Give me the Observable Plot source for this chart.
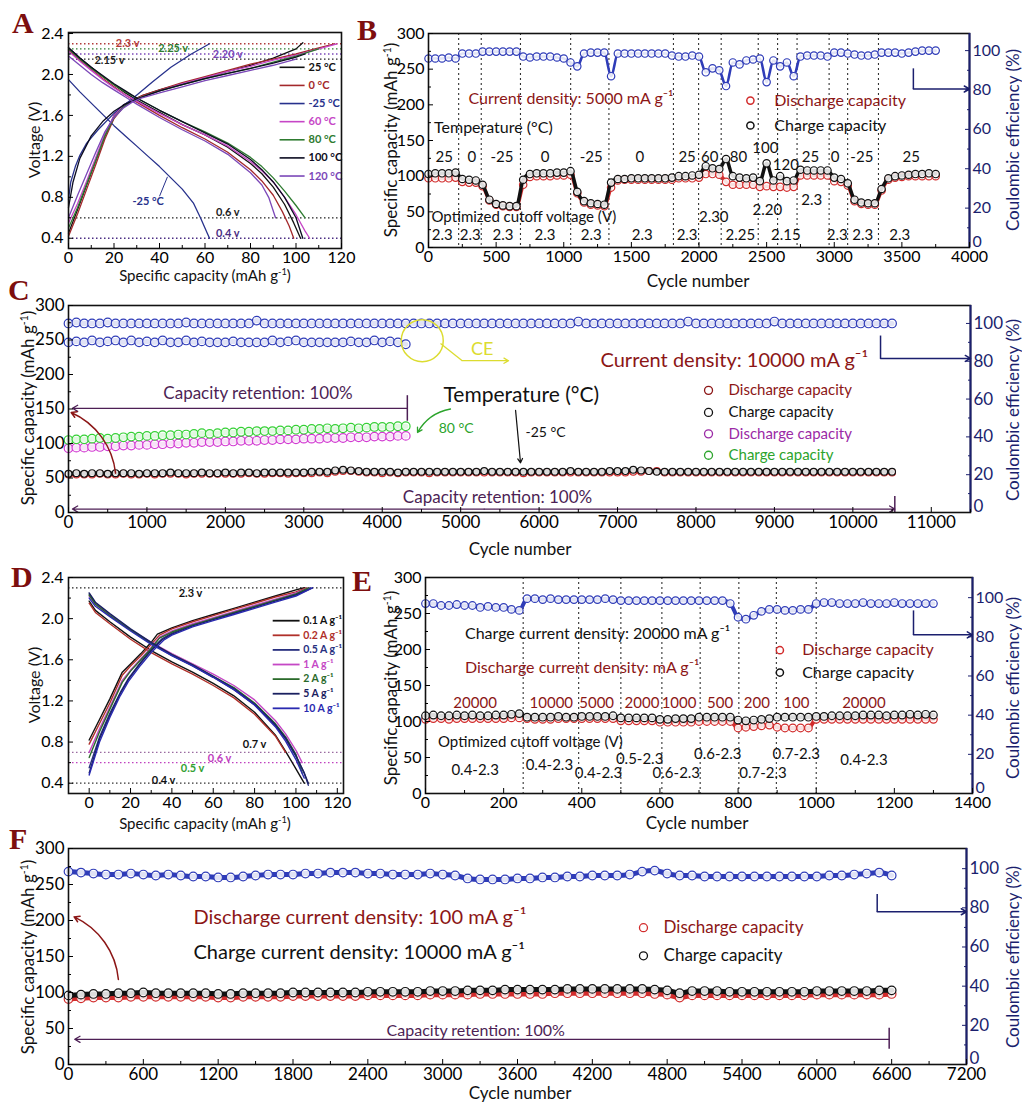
<!DOCTYPE html>
<html>
<head>
<meta charset="utf-8">
<script src="https://cdn.jsdelivr.net/npm/d3@7"></script>
<script src="https://cdn.jsdelivr.net/npm/@observablehq/plot@0.6"></script>
<style>
  html, body { margin:0; padding:0; background:#fff; }
  #fig { position:relative; width:1022px; height:1103px; overflow:hidden; font-family: Lato, "Open Sans", "DejaVu Sans", sans-serif; }
  #fig svg { position:absolute; overflow:visible; }
  .lbl { position:absolute; white-space:nowrap; line-height:1; transform: translate(-50%,-50%); }
  .rot { transform: translate(-50%,-50%) rotate(-90deg); }
  .lbl sup { font-size:0.62em; vertical-align:0.55em; line-height:0; }
  .letter { position:absolute; font-family:"Liberation Serif","DejaVu Serif",serif; font-weight:bold; font-size:30px; line-height:1; color:#7d0e0e; }
</style>
</head>
<body>
<div id="fig"></div>
<script>
// ================= DATA =================
// ---- Panel A: charge/discharge voltage profiles at different temperatures
const tempsA = ["25 °C","0 °C","-25 °C","60 °C","80 °C","100 °C","120 °C"];
const chargeA = [
  [[0,0.45],[4,0.68],[8,0.92],[12,1.16],[16,1.4],[20,1.6],[24,1.7],[28,1.75],[32,1.79],[40,1.85],[50,1.91],[60,1.97],[70,2.03],[80,2.09],[90,2.16],[100,2.25],[103,2.31]],
  [[0,0.42],[4,0.64],[8,0.88],[12,1.12],[16,1.37],[20,1.57],[24,1.68],[28,1.74],[32,1.79],[40,1.85],[50,1.92],[60,1.98],[70,2.04],[80,2.1],[90,2.15],[100,2.2],[110,2.26],[117,2.3]],
  [[0,0.78],[1,0.95],[3,1.1],[5,1.21],[8,1.33],[13,1.46],[20,1.62],[29,1.78],[37,1.93],[45,2.07],[54,2.2],[62,2.3]],
  [[0,0.55],[4,0.74],[8,0.96],[12,1.19],[16,1.42],[20,1.6],[24,1.69],[28,1.74],[32,1.78],[40,1.84],[50,1.91],[60,1.97],[70,2.03],[80,2.08],[90,2.14],[100,2.19],[110,2.25],[118,2.3]],
  [[0,0.5],[4,0.7],[8,0.93],[12,1.16],[16,1.4],[20,1.58],[24,1.68],[28,1.74],[32,1.78],[40,1.84],[50,1.9],[60,1.96],[70,2.01],[80,2.06],[90,2.12],[100,2.18],[110,2.25]],
  [[0,0.7],[2,0.95],[5,1.18],[10,1.4],[15,1.54],[20,1.64],[25,1.71],[30,1.76],[35,1.8],[40,1.84],[50,1.9],[60,1.96],[70,2.01],[80,2.06],[90,2.11],[100,2.17],[104,2.2]],
  [[0,0.6],[4,0.82],[8,1.03],[12,1.24],[16,1.44],[20,1.58],[24,1.67],[28,1.73],[32,1.77],[40,1.82],[50,1.88],[60,1.94],[70,1.99],[80,2.04],[90,2.09],[100,2.15]]
];
const dischargeA = [
  [[0,2.26],[5,2.16],[10,2.07],[15,1.98],[20,1.9],[25,1.82],[30,1.75],[40,1.63],[50,1.51],[60,1.41],[70,1.29],[80,1.13],[85,1.03],[90,0.9],[95,0.73],[99,0.55],[102,0.4]],
  [[0,2.24],[5,2.14],[10,2.05],[15,1.96],[20,1.88],[25,1.8],[30,1.73],[40,1.6],[50,1.48],[60,1.37],[70,1.24],[80,1.07],[85,0.96],[90,0.82],[94,0.66],[97,0.52],[99,0.4]],
  [[0,1.95],[5,1.83],[10,1.72],[15,1.61],[20,1.5],[25,1.4],[30,1.3],[35,1.2],[40,1.1],[45,0.99],[50,0.88],[55,0.74],[58,0.6],[61,0.45],[62,0.4]],
  [[0,2.23],[5,2.13],[10,2.04],[15,1.95],[20,1.87],[25,1.8],[30,1.74],[40,1.62],[50,1.51],[60,1.41],[70,1.3],[80,1.15],[85,1.06],[90,0.95],[95,0.8],[100,0.63],[104,0.47],[106,0.4]],
  [[0,2.25],[5,2.15],[10,2.06],[15,1.98],[20,1.9],[25,1.83],[30,1.77],[40,1.65],[50,1.54],[60,1.44],[70,1.33],[80,1.19],[85,1.1],[90,0.99],[95,0.86],[100,0.72],[104,0.6]],
  [[0,2.26],[5,2.16],[10,2.07],[15,1.99],[20,1.91],[25,1.84],[30,1.77],[40,1.65],[50,1.54],[60,1.43],[70,1.32],[80,1.17],[85,1.07],[90,0.95],[95,0.8],[100,0.6],[103,0.4]],
  [[0,2.18],[5,2.09],[10,2.0],[15,1.92],[20,1.85],[25,1.78],[30,1.71],[40,1.58],[50,1.46],[60,1.35],[70,1.22],[80,1.04],[85,0.92],[88,0.8],[91,0.6]]
];
const cutA = [2.3, 2.25, 2.2, 2.15, 0.6, 0.4];
const cutLabelsA = ["2.3 v","2.25 v","2.20 v","2.15 v","0.6 v","0.4 v"];

// ---- Panel D: voltage profiles at different current densities
const ratesD = ["0.1 A g⁻¹","0.2 A g⁻¹","0.5 A g⁻¹","1 A g⁻¹","2 A g⁻¹","5 A g⁻¹","10 A g⁻¹"];
const chargeD = [
  [[0,0.82],[5,1.02],[10,1.22],[16,1.48],[20,1.56],[25,1.66],[30,1.77],[33,1.85],[40,1.91],[50,1.98],[60,2.04],[70,2.1],[80,2.16],[90,2.22],[100,2.28],[104,2.3]],
  [[0,0.78],[5,0.98],[10,1.18],[16,1.45],[20,1.54],[25,1.64],[30,1.75],[34,1.84],[40,1.9],[50,1.97],[60,2.03],[70,2.09],[80,2.15],[90,2.21],[100,2.26],[105,2.3]],
  [[0,0.55],[5,0.85],[10,1.08],[15,1.28],[19,1.42],[25,1.58],[30,1.7],[35,1.8],[40,1.86],[50,1.94],[60,2.0],[70,2.06],[80,2.12],[90,2.18],[100,2.24],[107,2.3]],
  [[0,0.7],[5,0.93],[10,1.14],[16,1.4],[20,1.5],[25,1.61],[30,1.72],[34,1.82],[40,1.88],[50,1.95],[60,2.01],[70,2.07],[80,2.13],[90,2.19],[100,2.25],[106,2.3]],
  [[0,0.65],[5,0.9],[10,1.12],[16,1.38],[20,1.49],[25,1.6],[30,1.71],[34,1.81],[40,1.87],[50,1.94],[60,2.0],[70,2.06],[80,2.12],[90,2.18],[100,2.24],[106,2.3]],
  [[0,0.5],[5,0.83],[10,1.06],[15,1.27],[19,1.41],[25,1.57],[30,1.69],[35,1.79],[40,1.85],[50,1.93],[60,1.99],[70,2.05],[80,2.11],[90,2.17],[100,2.23],[108,2.3]],
  [[0,0.48],[5,0.8],[10,1.04],[15,1.25],[19,1.39],[25,1.55],[30,1.67],[36,1.79],[40,1.84],[50,1.92],[60,1.98],[70,2.04],[80,2.1],[90,2.16],[100,2.22],[108,2.3]]
];
const dischargeD = [
  [[0,2.17],[3,2.08],[10,1.97],[20,1.82],[30,1.69],[40,1.58],[50,1.48],[60,1.37],[70,1.25],[80,1.09],[90,0.87],[95,0.71],[100,0.54],[104,0.4]],
  [[0,2.15],[3,2.06],[10,1.95],[20,1.8],[30,1.67],[40,1.56],[50,1.46],[60,1.35],[70,1.23],[80,1.07],[90,0.86],[95,0.7]],
  [[0,2.24],[3,2.15],[10,2.04],[20,1.89],[30,1.76],[40,1.64],[50,1.54],[60,1.43],[70,1.31],[80,1.16],[90,0.96],[95,0.83],[100,0.66],[104,0.5],[106,0.38]],
  [[0,2.22],[3,2.14],[10,2.03],[20,1.89],[30,1.77],[40,1.66],[50,1.56],[60,1.46],[70,1.35],[80,1.21],[90,1.01],[95,0.88],[100,0.72],[103,0.6]],
  [[0,2.23],[3,2.14],[10,2.03],[20,1.89],[30,1.76],[40,1.65],[50,1.55],[60,1.44],[70,1.33],[80,1.18],[90,0.98],[95,0.85],[100,0.68],[103,0.5]],
  [[0,2.25],[3,2.16],[10,2.05],[20,1.9],[30,1.77],[40,1.65],[50,1.55],[60,1.44],[70,1.32],[80,1.17],[90,0.97],[95,0.84],[100,0.67],[104,0.5],[106,0.4]],
  [[0,2.2],[3,2.12],[10,2.02],[20,1.88],[30,1.75],[40,1.64],[50,1.54],[60,1.43],[70,1.31],[80,1.16],[90,0.95],[95,0.81],[100,0.63],[104,0.45]]
];
const cutD = [2.3, 0.7, 0.6, 0.4];
const cutLabelsD = ["2.3 v","0.7 v","0.6 v","0.5 v","0.4 v"];

// ---- Panel B: cycling at different temperatures (5000 mA/g)
const cyclesB = [0,50,100,150,200,250,300,350,400,450,500,550,600,650,700,750,800,850,900,950,1000,1050,1100,1150,1200,1250,1300,1350,1400,1450,1500,1550,1600,1650,1700,1750,1800,1850,1900,1950,2000,2050,2100,2150,2200,2250,2300,2350,2400,2450,2500,2550,2600,2650,2700,2750,2800,2850,2900,2950,3000,3050,3100,3150,3200,3250,3300,3350,3400,3450,3500,3550,3600,3650,3700,3750];
const chargeB = [103,104,104,104,105,96,95,94,88,67,61,59,58,58,95,103,104,104,104,105,105,107,78,65,62,61,60,91,96,96,97,97,97,97,97,97,98,100,100,101,102,114,111,110,124,100,98,97,98,93,118,94,100,93,94,109,108,108,108,108,98,96,90,67,63,62,62,82,97,100,101,102,103,103,104,103];
const dischargeB = [97,97,97,97,98,92,91,91,86,66,60,58,57,57,88,99,100,100,100,101,101,102,76,63,60,59,58,84,94,95,95,95,95,95,95,95,95,97,97,97,98,103,103,102,92,88,88,88,88,85,86,85,85,84,85,101,101,101,101,101,93,92,87,65,61,60,60,80,95,98,99,100,100,100,100,100];
const ceB = [96,96,96,96.5,96,98.5,98.5,98.5,99.5,99.5,99.5,99.5,99.5,99.5,97,96.5,97,97,97,96.5,96,94,92,98.5,99,99,99,87,98.5,98.5,98.5,98.5,98.5,98.5,98.5,98.5,97.5,97,97,97.5,97,89,91,90,82,94,93,95,95.5,96,84,95,92,94,87,97,97.5,97.5,97.5,97,99,99,98.5,98,97.5,97.5,98,99,99,99,98.5,99,99.5,100,100,100];
const boundsB = [223,390,680,1051,1334,1811,1997,2164,2438,2581,2725,2962,3099,3327];
const tempLabelsB = ["25","0","-25","0","-25","0","25","60","80","100","120","25","0","-25","25"];
const cutLabelsB = ["2.3","2.3","2.3","2.3","2.3","2.3","2.3","2.30","2.25","2.20","2.15","2.3","2.3","2.3","2.3"];

// ---- Panel C: long cycling at -25 °C and 80 °C (10000 mA/g)
const cyclesC = [0,100,200,300,400,500,600,700,800,900,1000,1100,1200,1300,1400,1500,1600,1700,1800,1900,2000,2100,2200,2300,2400,2500,2600,2700,2800,2900,3000,3100,3200,3300,3400,3500,3600,3700,3800,3900,4000,4100,4200,4300,4400,4500,4600,4700,4800,4900,5000,5100,5200,5300,5400,5500,5600,5700,5800,5900,6000,6100,6200,6300,6400,6500,6600,6700,6800,6900,7000,7100,7200,7300,7400,7500,7600,7700,7800,7900,8000,8100,8200,8300,8400,8500,8600,8700,8800,8900,9000,9100,9200,9300,9400,9500,9600,9700,9800,9900,10000,10100,10200,10300,10400,10500];
const chargeM25C = [56,57,56,57,57,56,57,57,57,56,57,57,57,58,57,57,57,58,57,57,58,57,58,58,57,58,58,58,58,58,58,59,59,59,61,62,61,60,59,59,59,59,58,59,59,59,59,59,59,59,59,59,59,60,59,59,59,59,59,59,59,59,59,59,60,59,59,59,59,60,60,60,62,61,60,59,59,59,59,59,59,59,59,59,59,59,59,59,59,59,59,59,59,59,59,59,59,59,59,59,59,59,59,59,59,59];
const dischargeM25C = [55,55,55,55,56,55,55,56,55,55,56,55,56,56,56,55,56,56,56,56,56,56,56,57,56,56,57,57,56,57,57,57,58,57,59,60,60,59,58,58,57,58,57,58,58,58,57,58,58,58,58,58,58,58,58,58,58,58,57,58,58,58,58,58,58,58,58,58,58,58,58,58,59,59,60,60,58,58,58,58,58,58,58,58,58,58,58,58,58,58,58,58,58,58,58,58,58,58,58,58,58,58,58,58,58,58];
const ceM25C = [100,100.5,100,100,100,100.5,100,100,100,100,100,100,100,100,100,100.5,100,100,100,100,100,100,100,100,101.5,100,100,100,100,100,100,100,100,100,100,100,100,100,100,100,100,100,100,100,100,100,100,100,100,100,100,100,100,100,100,100,100,100,100,100,100,100,100,100,100,101,100,100,100,100,100,100,100,100,100,100,100,100,100,101,100,100,100,100,100,100,100,100,100,100,101,100,100,100,100,100,100,100,100,100,100,100,100,100,100,100];
const charge80C = [105,106,106,107,108,107,108,109,110,110,111,111,112,112,113,113,114,115,114,115,116,116,117,117,118,118,118,119,119,120,120,121,121,122,121,122,123,122,123,124,124,124,125,125];
const discharge80C = [93,94,94,95,95,96,96,97,97,98,98,99,99,100,100,101,101,102,102,102,103,103,104,104,104,105,105,106,106,106,107,107,107,108,108,108,109,109,109,110,110,110,111,111];
const ce80C = [90,90.5,90,91,90,90.5,91,90,91,90,90.5,90,91,90,90,91,90,90.5,90,90,90,90.5,90,90,90,90,91,90,90.5,91,90,90,90,90,90,90,90.5,90,90,91,90,90.5,90,89];
const legendC = ["Discharge capacity","Charge capacity","Discharge capacity","Charge capacity"];

// ---- Panel E: rate capability (charge 20000 mA/g, variable discharge)
const cyclesE = [0,20,40,60,80,100,120,140,160,180,200,220,240,260,280,300,320,340,360,380,400,420,440,460,480,500,520,540,560,580,600,620,640,660,680,700,720,740,760,780,800,820,840,860,880,900,920,940,960,980,1000,1020,1040,1060,1080,1100,1120,1140,1160,1180,1200,1220,1240,1260,1280,1300];
const chargeE = [108,109,108,108,109,108,109,108,108,109,109,110,111,106,106,106,106,107,106,106,107,107,107,107,108,105,105,105,105,105,103,103,104,104,104,106,106,106,106,106,102,101,102,103,104,106,106,106,106,106,107,107,108,108,108,108,109,109,109,108,109,109,110,109,110,109];
const dischargeE = [103,104,104,103,104,104,104,104,104,104,104,105,105,104,103,103,103,104,104,104,104,104,104,104,104,101,101,101,101,101,99,99,99,99,99,100,100,100,100,100,91,92,93,94,95,92,91,91,91,91,103,103,103,103,103,103,103,103,103,103,103,103,103,103,103,103];
const ceE = [97,97,96,96,96.5,96,96,95,95.5,95,95,94,93.5,99.5,99.5,99,99.5,99,99,99,99,99,99,99.5,99,98.5,98.5,98.5,98.5,98.5,98.5,98.5,98.5,98.5,98.5,98.5,98.5,98.5,98.5,97,90,89,91,93,94,94,93.5,93.5,94,94,97,97.5,97.5,97,97,97,97.5,97,97,97,97.5,97,97,97,97,97];
const boundsE = [250,392,500,605,703,802,898,1000];
const rateLabelsE = ["20000","10000","5000","2000","1000","500","200","100","20000"];
const cutLabelsE = ["0.4-2.3","0.4-2.3","0.4-2.3","0.5-2.3","0.6-2.3","0.6-2.3","0.7-2.3","0.7-2.3","0.4-2.3"];

// ---- Panel F: asymmetric cycling (discharge 100, charge 10000 mA/g)
const cyclesF = [0,100,200,300,400,500,600,700,800,900,1000,1100,1200,1300,1400,1500,1600,1700,1800,1900,2000,2100,2200,2300,2400,2500,2600,2700,2800,2900,3000,3100,3200,3300,3400,3500,3600,3700,3800,3900,4000,4100,4200,4300,4400,4500,4600,4700,4800,4900,5000,5100,5200,5300,5400,5500,5600,5700,5800,5900,6000,6100,6200,6300,6400,6500,6600];
const chargeF = [96,97,98,98,99,99,100,99,99,99,99,99,98,98,99,99,99,99,100,100,100,100,100,100,101,101,101,101,101,102,102,102,103,103,103,104,104,104,104,104,105,105,105,105,105,105,105,104,103,99,102,102,102,101,101,101,101,101,101,101,102,102,102,102,102,103,103];
const dischargeF = [91,92,93,93,93,94,94,94,94,94,94,94,93,93,94,94,94,94,95,95,95,95,95,95,96,96,96,96,96,97,97,97,97,98,98,98,98,98,98,99,99,99,99,99,99,99,99,98,97,93,96,96,96,96,96,96,96,96,96,96,97,97,97,97,97,97,98];
const ceF = [98.5,98,97.5,97,97,97.5,97,96.5,97,96.5,96,96,95.5,95.5,96,96.5,97,97,97,97.5,97.5,98,98,98,97.5,97.5,97,97,97,97.5,97,96.5,95,94.5,94.5,94.5,95,95,95.5,95.5,96,96,96.5,96.5,96.5,97,98.5,99,97.5,96.5,96.5,96,96,96,96,96,96,96,96,96,96,96.5,96.5,97,97.5,98,96.5];

// ---- tick values
const capTicks = [0,50,100,150,200,250,300];
const capMinor = [25,75,125,175,225,275];
const ceTicks = [20,40,60,80,100];
const ceMinor = [10,30,50,70,90];
const vTicks = [0.4,0.8,1.2,1.6,2.0,2.4];
const vMinor = [0.6,1.0,1.4,1.8,2.2];
const qTicks = [0,20,40,60,80,100,120];
const qMinor = [10,30,50,70,90,110];
const xTicksB = [0,500,1000,1500,2000,2500,3000,3500,4000];
const xTicksC = [0,1000,2000,3000,4000,5000,6000,7000,8000,9000,10000,11000];
const xTicksE = [0,200,400,600,800,1000,1200,1400];
const xTicksF = [0,600,1200,1800,2400,3000,3600,4200,4800,5400,6000,6600,7200];

// ================= STYLE =================
const FONT = "Lato, 'Open Sans', 'DejaVu Sans', sans-serif";
const NAVY = "#1b1f6e";
const BLUE = "#2f3cb8";
const DOTRED = "#d22c2c";
const DARKRED = "#8c1616";
const RET = "#4d1f55";
const colorsA = ["#111111","#a3282b","#27318c","#c646c6","#2e7b30","#0b0b20","#7b47b8"];
const colorsD = ["#111111","#b0302a","#28307f","#c548c5","#2a6a2a","#1a2060","#2a2ab0"];
const fig = document.getElementById("fig");

function place(svg, left, top) { svg.style.left = left + "px"; svg.style.top = top + "px"; fig.appendChild(svg); }
function base(o) { return {color:{type:"identity"}, style:{fontFamily:FONT, background:"transparent", overflow:"visible"}, ...o}; }
const fmt = d => String(d);

function cycAxes(xTicks, xMinor, xmax, k, fs) {
  return [
    Plot.frame({stroke:"#111", strokeWidth:1.6}),
    Plot.ruleX([xmax], {stroke:NAVY, strokeWidth:2}),
    Plot.axisX(xTicks, {tickSize:-5, tickPadding:8, fontSize:fs, label:null, tickFormat:fmt}),
    Plot.axisX(xMinor, {tickSize:-3, tickFormat:()=>"", label:null}),
    Plot.axisY(capTicks, {tickSize:-5, tickPadding:9, fontSize:fs, label:null, tickFormat:fmt}),
    Plot.axisY(capMinor, {tickSize:-3, tickFormat:()=>"", label:null}),
    Plot.axisY(ceTicks.map(v=>v*k), {anchor:"right", tickSize:-5, tickPadding:8, fontSize:fs, label:null, color:NAVY, tickFormat:d=>String(Math.round(d/k))}),
    Plot.axisY([0], {anchor:"right", tickSize:0, tickPadding:3, dy:-6, fontSize:fs, label:null, color:NAVY, tickFormat:fmt}),
    Plot.axisY(ceMinor.map(v=>v*k), {anchor:"right", tickSize:-3, tickFormat:()=>"", label:null, color:NAVY})
  ];
}
function series(rows, y, color, r, lw) {
  return [
    Plot.line(rows, {x:"c", y, stroke:color, strokeWidth:lw, curve:"monotone-x"}),
    Plot.dot(rows, {x:"c", y, r, stroke:color, fill:"white", fillOpacity:0.85, strokeWidth:1.2})
  ];
}
function txt(s, x, y, o) { return Plot.text([s], {x, y, text:d=>d, ...o}); }
function ceArrow(x, ceTop, ceLevel, xmax, k) {
  return [
    Plot.link([0], {x1:x, x2:x, y1:ceTop*k, y2:ceLevel*k, stroke:NAVY, strokeWidth:1.5}),
    Plot.arrow([0], {x1:x, x2:xmax, y1:ceLevel*k, y2:ceLevel*k, stroke:NAVY, strokeWidth:1.5, headLength:6})
  ];
}

// ================= PANEL A =================
const rowsA = tempsA.flatMap((t,i) => [
  ...chargeA[i].map(([q,v]) => ({id:"c"+i, q, v, col:colorsA[i]})),
  ...dischargeA[i].map(([q,v]) => ({id:"d"+i, q, v, col:colorsA[i]}))
]);
const cutColA = ["#b23a3a","#2e7b30","#7b47b8","#222","#222","#4b2d83"];
const cutPosA = [[26,2.3],[46,2.25],[70,2.2],[18,2.135],[70,0.655],[70,0.45]];
place(Plot.plot(base({
  width:380, height:285, marginLeft:68, marginRight:39, marginTop:32, marginBottom:37,
  x:{domain:[0,120], label:null}, y:{domain:[0.3,2.41], label:null},
  marks:[
    Plot.ruleY(cutA, {y:d=>d, stroke:(d,i)=>cutColA[i], strokeDasharray:"1.5,2.5", strokeWidth:1.3}),
    Plot.line(rowsA, {x:"q", y:"v", z:"id", stroke:"col", strokeWidth:1.3}),
    Plot.text(cutLabelsA, {x:(d,i)=>cutPosA[i][0], y:(d,i)=>cutPosA[i][1], text:d=>d, fill:(d,i)=>cutColA[i], fontSize:11, fontWeight:"bold"}),
    txt("-25 °C", 35, 0.76, {fill:"#27318c", fontSize:11, fontWeight:"bold"}),
    Plot.link([0], {x1:40, y1:0.81, x2:43.5, y2:1.0, stroke:"#27318c"}),
    Plot.ruleY(tempsA, {y:(d,i)=>2.07-i*0.177, x1:93, x2:104, stroke:(d,i)=>colorsA[i], strokeWidth:1.6}),
    Plot.text(tempsA, {x:105.5, y:(d,i)=>2.07-i*0.177, text:d=>d, fill:(d,i)=>colorsA[i], textAnchor:"start", fontSize:11, fontWeight:"bold"}),
    Plot.frame({stroke:"#111", strokeWidth:1.6}),
    Plot.axisX(qTicks, {tickSize:-5, tickPadding:8, fontSize:16, label:null, tickFormat:fmt}),
    Plot.axisX(qMinor, {tickSize:-3, tickFormat:()=>"", label:null}),
    Plot.axisY(vTicks, {tickSize:-5, tickPadding:10, fontSize:16, label:null, tickFormat:d3.format(".1f")}),
    Plot.axisY(vMinor, {tickSize:-3, tickFormat:()=>"", label:null})
  ]
})), 0, 0);

// ================= PANEL B =================
const kB = 2.76;
const rowsB = cyclesB.map((c,i) => ({c, ch:chargeB[i], dis:dischargeB[i], ce:ceB[i]}));
const tempXB = [117,321,543,862,1203,1562,1912,2079,2292,2490,2642,2824,3006,3204,3569];
const tempYB = [126,126,126,126,126,126,126,126,126,139,116,126,126,126,126];
const cutXB = [101,308,551,862,1203,1580,1912,2109,2306,2505,2642,2834,3022,3210,3484];
const cutYB = [17,17,17,17,17,17,17,42,17,52,17,67,17,17,17];
place(Plot.plot(base({
  width:642, height:285, marginLeft:48, marginRight:53, marginTop:33, marginBottom:38,
  x:{domain:[0,4000], label:null}, y:{domain:[0,300], label:null},
  marks:[
    Plot.ruleX(boundsB, {stroke:"#333", strokeDasharray:"2,3", strokeWidth:1.1}),
    ...series(rowsB, d=>d.ce*kB, BLUE, 3.7, 2.6),
    ...series(rowsB, "dis", DOTRED, 3.7, 3.5),
    ...series(rowsB, "ch", "#111", 3.7, 3.5),
    txt("Current density: 5000 mA g⁻¹", 296, 209, {textAnchor:"start", fill:DARKRED, fontSize:16}),
    txt("Temperature (°C)", 41, 168, {textAnchor:"start", fill:"#111", fontSize:16}),
    Plot.dot([0], {x:2380, y:206, r:3.6, stroke:DOTRED, fill:"white"}),
    Plot.dot([0], {x:2380, y:171, r:3.6, stroke:"#111", fill:"white"}),
    txt("Discharge capacity", 2557, 206, {textAnchor:"start", fill:DARKRED, fontSize:16}),
    txt("Charge capacity", 2557, 171, {textAnchor:"start", fill:"#111", fontSize:16}),
    Plot.text(tempLabelsB, {x:(d,i)=>tempXB[i], y:(d,i)=>tempYB[i], text:d=>d, fill:"#111", fontSize:15}),
    txt("Optimized cutoff voltage (V)", 22, 42, {textAnchor:"start", fill:"#111", fontSize:15}),
    Plot.text(cutLabelsB, {x:(d,i)=>cutXB[i], y:(d,i)=>cutYB[i], text:d=>d, fill:"#111", fontSize:15}),
    ...ceArrow(3585, 91, 80.5, 4000, kB),
    ...cycAxes(xTicksB, [250,750,1250,1750,2250,2750,3250,3750], 4000, kB, 16)
  ]
})), 380, 0);

// ================= PANEL C =================
const kC = 2.74;
const rowsCm = cyclesC.map((c,i) => ({c, ch:chargeM25C[i], dis:dischargeM25C[i], ce:ceM25C[i]}));
const rowsC8 = cyclesC.slice(0, charge80C.length).map((c,i) => ({c, ch:charge80C[i], dis:discharge80C[i], ce:ce80C[i]}));
const legColC = [DARKRED, "#111", "#9b2aa6", "#2ca42c"];
const legYC = [177,145,114,83];
const YEL = "#dcdc30";
place(Plot.plot(base({
  width:1022, height:275, marginLeft:68, marginRight:52, marginTop:20, marginBottom:48,
  x:{domain:[0,11500], label:null}, y:{domain:[0,300], label:null},
  marks:[
    ...series(rowsC8, d=>d.ce*kC, BLUE, 4.3, 5),
    ...series(rowsCm, d=>d.ce*kC, BLUE, 4.3, 5),
    ...series(rowsC8, "dis", "#d23ad2", 4.3, 5),
    ...series(rowsC8, "ch", "#35d035", 4.3, 5),
    ...series(rowsCm, "dis", DOTRED, 3.4, 4),
    ...series(rowsCm, "ch", "#111", 3.4, 4),
    Plot.dot([0], {x:4510, y:249, r:21, stroke:YEL, fill:"none", strokeWidth:1.5}),
    Plot.link([0], {x1:4743, y1:245, x2:5020, y2:220, stroke:YEL, strokeWidth:1.3}),
    Plot.arrow([0], {x1:5020, y1:220, x2:5610, y2:220, stroke:YEL, strokeWidth:1.3, headLength:6}),
    txt("CE", 5275, 236, {fill:YEL, fontSize:18}),
    txt("Current density: 10000 mA g⁻¹", 6783, 220, {textAnchor:"start", fill:DARKRED, fontSize:20}),
    Plot.dot(legendC, {x:8160, y:(d,i)=>legYC[i], r:4, stroke:(d,i)=>legColC[i], fill:"white", strokeWidth:1.3}),
    Plot.text(legendC, {x:8415, y:(d,i)=>legYC[i], text:d=>d, fill:(d,i)=>legColC[i], textAnchor:"start", fontSize:15}),
    txt("Temperature (°C)", 4781, 170, {textAnchor:"start", fill:"#111", fontSize:21}),
    txt("80 °C", 4720, 122, {textAnchor:"start", fill:"#2ca42c", fontSize:14}),
    Plot.arrow([0], {x1:4870, y1:150, x2:4450, y2:116, bend:-25, stroke:"#2ca42c", strokeWidth:1.3, headLength:6}),
    txt("-25 °C", 5827, 116, {textAnchor:"start", fill:"#111", fontSize:14}),
    Plot.arrow([0], {x1:5700, y1:148, x2:5763, y2:72, stroke:"#111", strokeWidth:1.2, headLength:6}),
    txt("Capacity retention: 100%", 2416, 172, {fill:RET, fontSize:17}),
    Plot.arrow([0], {x1:4320, y1:151, x2:50, y2:151, stroke:RET, strokeWidth:1.3, headLength:7}),
    Plot.link([0], {x1:4320, x2:4320, y1:133, y2:170, stroke:RET, strokeWidth:1.5}),
    txt("Capacity retention: 100%", 5470, 22, {fill:RET, fontSize:17}),
    Plot.arrow([0], {x1:5300, y1:5, x2:50, y2:5, stroke:RET, strokeWidth:1.3, headLength:7}),
    Plot.arrow([0], {x1:5300, y1:5, x2:10535, y2:5, stroke:RET, strokeWidth:1.3, headLength:7}),
    Plot.link([0], {x1:10535, x2:10535, y1:0, y2:24, stroke:RET, strokeWidth:1.5}),
    Plot.arrow([0], {x1:600, y1:57, x2:34, y2:145, bend:-30, stroke:DARKRED, strokeWidth:1.5, headLength:6}),
    ...ceArrow(10353, 93.6, 81.5, 11500, kC),
    ...cycAxes(xTicksC, [500,1500,2500,3500,4500,5500,6500,7500,8500,9500,10500,11500], 11500, kC, 17)
  ]
})), 0, 285);

// ================= PANEL D =================
const rowsD = ratesD.flatMap((t,i) => [
  ...chargeD[i].map(([q,v]) => ({id:"c"+i, q, v, col:colorsD[i]})),
  ...dischargeD[i].map(([q,v]) => ({id:"d"+i, q, v, col:colorsD[i]}))
]);
const cutColD = ["#222","#9a6aa0","#c040c0","#333"];
const cutTxtColD = ["#111","#111","#c040c0","#33a033","#111"];
const cutPosD = [[49,2.245],[80,0.775],[63,0.645],[50,0.54],[36,0.43]];
place(Plot.plot(base({
  width:380, height:285, marginLeft:68, marginRight:37, marginTop:17, marginBottom:52,
  x:{domain:[-10,123], label:null}, y:{domain:[0.3,2.4], label:null},
  marks:[
    Plot.ruleY(cutD, {y:d=>d, stroke:(d,i)=>cutColD[i], strokeDasharray:"1.5,2.5", strokeWidth:1.3}),
    Plot.line(rowsD, {x:"q", y:"v", z:"id", stroke:"col", strokeWidth:1.4}),
    Plot.text(cutLabelsD, {x:(d,i)=>cutPosD[i][0], y:(d,i)=>cutPosD[i][1], text:d=>d, fill:(d,i)=>cutTxtColD[i], fontSize:11, fontWeight:"bold"}),
    Plot.ruleY(ratesD, {y:(d,i)=>1.98-i*0.142, x1:89, x2:102, stroke:(d,i)=>colorsD[i], strokeWidth:1.8}),
    Plot.text(ratesD, {x:103.5, y:(d,i)=>1.98-i*0.142, text:d=>d, fill:(d,i)=>colorsD[i], textAnchor:"start", fontSize:10.5, fontWeight:"bold"}),
    Plot.frame({stroke:"#111", strokeWidth:1.6}),
    Plot.axisX(qTicks, {tickSize:-5, tickPadding:8, fontSize:16, label:null, tickFormat:fmt}),
    Plot.axisX(qMinor, {tickSize:-3, tickFormat:()=>"", label:null}),
    Plot.axisY(vTicks, {tickSize:-5, tickPadding:10, fontSize:16, label:null, tickFormat:d3.format(".1f")}),
    Plot.axisY(vMinor, {tickSize:-3, tickFormat:()=>"", label:null})
  ]
})), 0, 560);

// ================= PANEL E =================
const kE = 2.72;
const rowsE = cyclesE.map((c,i) => ({c, ch:chargeE[i], dis:dischargeE[i], ce:ceE[i]}));
const rateXE = [127,322,438,554,649,754,848,949,1122];
const cutXE = [127,317,443,548,642,748,864,949,1122];
const cutYE = [32,39,28,48,28,55,28,55,46];
place(Plot.plot(base({
  width:642, height:285, marginLeft:45, marginRight:50, marginTop:17, marginBottom:52,
  x:{domain:[0,1400], label:null}, y:{domain:[0,300], label:null},
  marks:[
    Plot.ruleX(boundsE, {stroke:"#333", strokeDasharray:"2,3", strokeWidth:1.1}),
    ...series(rowsE, d=>d.ce*kE, BLUE, 3.8, 4),
    ...series(rowsE, "dis", DOTRED, 3.8, 4),
    ...series(rowsE, "ch", "#111", 3.8, 4),
    txt("Charge current density: 20000 mA g⁻¹", 101, 222, {textAnchor:"start", fill:"#111", fontSize:16}),
    txt("Discharge current density: mA g⁻¹", 101, 175, {textAnchor:"start", fill:DARKRED, fontSize:16}),
    Plot.dot([0], {x:907, y:199, r:3.6, stroke:DOTRED, fill:"white"}),
    Plot.dot([0], {x:907, y:168, r:3.6, stroke:"#111", fill:"white"}),
    txt("Discharge capacity", 964, 199, {textAnchor:"start", fill:DARKRED, fontSize:16}),
    txt("Charge capacity", 964, 168, {textAnchor:"start", fill:"#111", fontSize:16}),
    Plot.text(rateLabelsE, {x:(d,i)=>rateXE[i], y:126, text:d=>d, fill:DARKRED, fontSize:15}),
    txt("Optimized cutoff voltage (V)", 32, 71, {textAnchor:"start", fill:"#111", fontSize:15}),
    Plot.text(cutLabelsE, {x:(d,i)=>cutXE[i], y:(d,i)=>cutYE[i], text:d=>d, fill:"#111", fontSize:15}),
    ...ceArrow(1249, 93.5, 81, 1400, kE),
    ...cycAxes(xTicksE, [100,300,500,700,900,1100,1300], 1400, kE, 16)
  ]
})), 380, 560);

// ================= PANEL F =================
const kF = 2.72;
const rowsF = cyclesF.map((c,i) => ({c, ch:chargeF[i], dis:dischargeF[i], ce:ceF[i]}));
place(Plot.plot(base({
  width:1022, height:268, marginLeft:68, marginRight:56, marginTop:13, marginBottom:39,
  x:{domain:[0,7200], label:null}, y:{domain:[0,300], label:null},
  marks:[
    ...series(rowsF, d=>d.ce*kF, BLUE, 4.3, 5),
    ...series(rowsF, "dis", DOTRED, 4.3, 5),
    ...series(rowsF, "ch", "#111", 4.3, 5),
    txt("Discharge current density: 100 mA g⁻¹", 1002, 204, {textAnchor:"start", fill:DARKRED, fontSize:20}),
    txt("Charge current density: 10000 mA g⁻¹", 1002, 156, {textAnchor:"start", fill:"#111", fontSize:20}),
    Plot.dot([0], {x:4610, y:190, r:4, stroke:DOTRED, fill:"white", strokeWidth:1.3}),
    Plot.dot([0], {x:4610, y:151, r:4, stroke:"#111", fill:"white", strokeWidth:1.3}),
    txt("Discharge capacity", 4771, 190, {textAnchor:"start", fill:DARKRED, fontSize:17}),
    txt("Charge capacity", 4771, 151, {textAnchor:"start", fill:"#111", fontSize:17}),
    txt("Capacity retention: 100%", 3265, 47, {fill:RET, fontSize:16}),
    Plot.arrow([0], {x1:6580, y1:35, x2:50, y2:35, stroke:RET, strokeWidth:1.3, headLength:7}),
    Plot.link([0], {x1:6580, x2:6580, y1:22, y2:51, stroke:RET, strokeWidth:1.5}),
    Plot.arrow([0], {x1:400, y1:118, x2:45, y2:205, bend:-30, stroke:DARKRED, strokeWidth:1.5, headLength:6}),
    ...ceArrow(6484, 87, 78, 7200, kF),
    ...cycAxes(xTicksF, [300,900,1500,2100,2700,3300,3900,4500,5100,5700,6300,6900], 7200, kF, 17)
  ]
})), 0, 835);

// ================= HTML titles & panel letters =================
const SC = "Specific capacity (mAh g<sup>-1</sup>)";
const titles = [
  ["Voltage (V)", 34, 140, true, 16, "#111"],
  [SC, 205, 275, false, 15, "#111"],
  [SC, 390, 140, true, 17, "#111"],
  ["Cycle number", 698, 280, false, 17, "#111"],
  ["Coulombic efficiency (%)", 1012, 140, true, 17, NAVY],
  [SC, 27, 408, true, 17, "#111"],
  ["Cycle number", 520, 548, false, 17, "#111"],
  ["Coulombic efficiency (%)", 1012, 410, true, 17, NAVY],
  ["Voltage (V)", 34, 685, true, 16, "#111"],
  [SC, 205, 823, false, 15, "#111"],
  [SC, 390, 688, true, 17, "#111"],
  ["Cycle number", 697, 822, false, 17, "#111"],
  ["Coulombic efficiency (%)", 1012, 688, true, 17, NAVY],
  [SC, 27, 957, true, 17, "#111"],
  ["Cycle number", 520, 1092, false, 17, "#111"],
  ["Coulombic efficiency (%)", 1012, 957, true, 17, NAVY]
];
for (const [html, x, y, rot, size, color] of titles) {
  const d = document.createElement("div");
  d.className = "lbl" + (rot ? " rot" : "");
  d.innerHTML = html;
  d.style.left = x + "px"; d.style.top = y + "px";
  d.style.fontSize = size + "px"; d.style.color = color;
  fig.appendChild(d);
}
const letters = [["A",12,8],["B",357,15],["C",8,275],["D",11,562],["E",352,566],["F",9,824]];
for (const [s, x, y] of letters) {
  const d = document.createElement("div");
  d.className = "letter"; d.textContent = s;
  d.style.left = x + "px"; d.style.top = y + "px";
  fig.appendChild(d);
}
</script>
</body>
</html>
